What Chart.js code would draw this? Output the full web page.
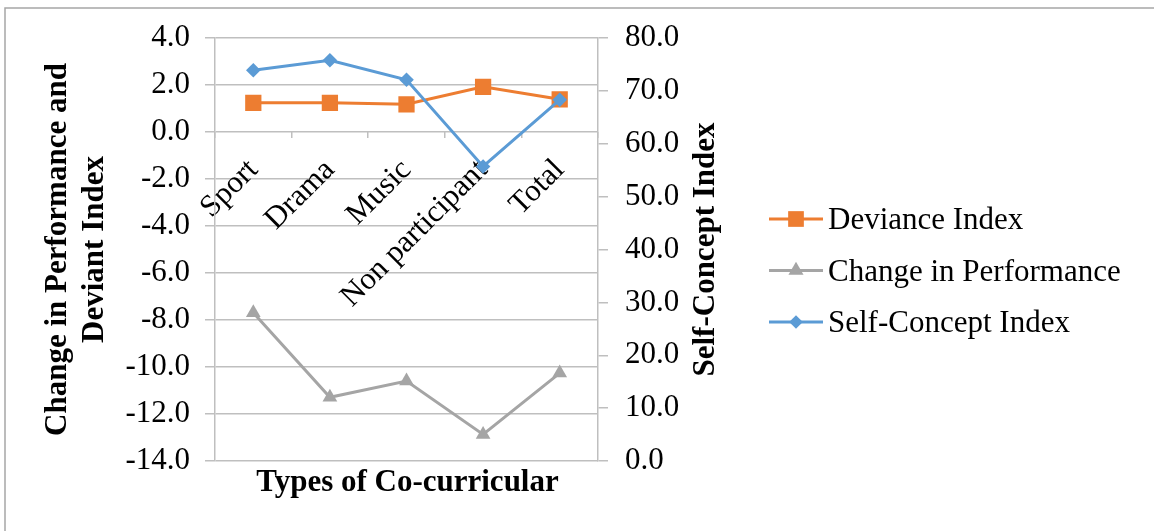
<!DOCTYPE html>
<html>
<head>
<meta charset="utf-8">
<title>Types of Co-curricular</title>
<script src="https://cdn.jsdelivr.net/npm/chart.js@4.4.1/dist/chart.umd.min.js"></script>
<style>
  html, body { margin: 0; padding: 0; background: #ffffff; }
  #wrap { width: 1154px; height: 531px; position: relative; }
  canvas { display: block; }
</style>
</head>
<body>
<div id="wrap"><canvas id="chart" width="1154" height="531"></canvas></div>
<script>
// ---- data ----
const categories = ['Sport', 'Drama', 'Music', 'Non participant', 'Total'];
const devianceIndex = [1.24, 1.24, 1.18, 1.92, 1.39];
const changeInPerformance = [-7.69, -11.29, -10.60, -12.87, -10.26];
const selfConceptIndex = [73.9, 75.8, 72.1, 55.7, 68.3];

const seriesNames = ['Deviance Index', 'Change in Performance', 'Self-Concept Index'];
const leftAxisTitle = ['Change in Performance and', 'Deviant Index'];
const rightAxisTitle = 'Self-Concept Index';
const xAxisTitle = 'Types of Co-curricular';

const leftMin = -14, leftMax = 4, leftStep = 2;
const rightMin = 0, rightMax = 80, rightStep = 10;

// ---- style ----
const FONT = '"Liberation Serif", "Times New Roman", serif';
const FS = 31;
const GRID = '#BFBFBF';
const ORANGE = '#ED7D31';
const GRAY = '#A5A5A5';
const BLUE = '#5B9BD5';

Chart.defaults.font.family = FONT;
Chart.defaults.font.size = FS;
Chart.defaults.color = '#000000';

// legend entries: line with the series marker in its middle
const legendMarkers = [
  { pointStyle: 'rect', radius: 11.1 },
  { pointStyle: 'triangle', radius: 8.7 },
  { pointStyle: 'rectRot', radius: 6.8 }
];

const framePlugin = {
  id: 'frame',
  beforeDraw(chart) {
    const ctx = chart.ctx;
    ctx.save();
    ctx.fillStyle = '#ffffff';
    ctx.fillRect(0, 0, chart.width, chart.height);
    ctx.strokeStyle = '#A6A6A6';
    ctx.lineWidth = 1.5;
    ctx.beginPath();
    ctx.moveTo(5, chart.height);
    ctx.lineTo(5, 8);
    ctx.lineTo(chart.width, 8);
    ctx.stroke();
    ctx.restore();
  }
};

const titlesPlugin = {
  id: 'extraTitles',
  afterDraw(chart) {
    const ctx = chart.ctx;
    const area = chart.chartArea;
    ctx.save();
    ctx.fillStyle = '#000000';
    ctx.font = 'bold ' + FS + 'px ' + FONT;
    // category axis title under the plot
    ctx.textAlign = 'center';
    ctx.textBaseline = 'alphabetic';
    ctx.fillText(xAxisTitle, (area.left + area.right) / 2 + 1, 491);
    // secondary axis title, reading bottom to top
    ctx.translate(chart.scales.y1.right - 22, (area.top + area.bottom) / 2);
    ctx.rotate(-Math.PI / 2);
    ctx.textBaseline = 'middle';
    ctx.fillText(rightAxisTitle, 0, 0);
    ctx.restore();
  }
};

const legendPlugin = {
  id: 'sideLegend',
  afterDraw(chart) {
    const ctx = chart.ctx;
    const rows = [219, 270.5, 322];
    const x0 = 769, x1 = 823, xm = 796, xt = 828;
    chart.data.datasets.forEach((ds, i) => {
      const y = rows[i];
      ctx.save();
      ctx.strokeStyle = ds.borderColor;
      ctx.lineWidth = ds.borderWidth;
      ctx.beginPath();
      ctx.moveTo(x0, y);
      ctx.lineTo(x1, y);
      ctx.stroke();
      ctx.fillStyle = ds.pointBackgroundColor;
      ctx.strokeStyle = ds.pointBackgroundColor;
      Chart.helpers.drawPoint(ctx, {
        pointStyle: legendMarkers[i].pointStyle,
        radius: legendMarkers[i].radius,
        rotation: 0,
        borderWidth: 0
      }, xm, y);
      ctx.fillStyle = '#000000';
      ctx.font = FS + 'px ' + FONT;
      ctx.textAlign = 'left';
      ctx.textBaseline = 'alphabetic';
      ctx.fillText(ds.label, xt, y + 10);
      ctx.restore();
    });
  }
};

const oneDecimal = v => Number(v).toFixed(1);

new Chart(document.getElementById('chart'), {
  type: 'line',
  data: {
    labels: categories,
    datasets: [
      {
        label: seriesNames[0],
        data: devianceIndex,
        yAxisID: 'y',
        borderColor: ORANGE,
        backgroundColor: ORANGE,
        pointBackgroundColor: ORANGE,
        pointBorderColor: ORANGE,
        borderWidth: 3,
        pointStyle: 'rect',
        pointRadius: 11.5,
        pointBorderWidth: 0,
        order: 2
      },
      {
        label: seriesNames[1],
        data: changeInPerformance,
        yAxisID: 'y',
        borderColor: GRAY,
        backgroundColor: GRAY,
        pointBackgroundColor: GRAY,
        pointBorderColor: GRAY,
        borderWidth: 3,
        pointStyle: 'triangle',
        pointRadius: 8.5,
        pointBorderWidth: 0,
        order: 1
      },
      {
        label: seriesNames[2],
        data: selfConceptIndex,
        yAxisID: 'y1',
        borderColor: BLUE,
        backgroundColor: BLUE,
        pointBackgroundColor: BLUE,
        pointBorderColor: BLUE,
        borderWidth: 3,
        pointStyle: 'rectRot',
        pointRadius: 7.3,
        pointBorderWidth: 0,
        order: 0
      }
    ]
  },
  options: {
    responsive: false,
    animation: false,
    devicePixelRatio: 1,
    layout: { padding: { left: 34, right: 426, top: 38, bottom: 70 } },
    plugins: {
      legend: { display: false },
      tooltip: { enabled: false }
    },
    elements: { line: { tension: 0 } },
    scales: {
      x: {
        type: 'category',
        position: { y: 0 },
        offset: true,
        border: { display: false },
        grid: {
          display: true,
          offset: true,
          drawOnChartArea: false,
          drawTicks: true,
          tickLength: 6,
          color: GRID,
          lineWidth: 1.5
        },
        ticks: {
          autoSkip: false,
          minRotation: 45,
          maxRotation: 45,
          padding: 14,
          color: '#000000',
          font: { size: FS }
        }
      },
      y: {
        position: 'left',
        min: leftMin,
        max: leftMax,
        border: { display: true, color: GRID, width: 1.5 },
        grid: { color: GRID, lineWidth: 1.5, drawTicks: true, tickLength: 10 },
        ticks: {
          stepSize: leftStep,
          padding: 15,
          color: '#000000',
          font: { size: FS },
          callback: oneDecimal
        },
        title: {
          display: true,
          text: leftAxisTitle,
          color: '#000000',
          font: { size: FS, weight: 'bold', lineHeight: 1.2 },
          padding: { top: 5, bottom: 4 }
        },
        afterFit(scale) { scale.width = 181; }
      },
      y1: {
        position: 'right',
        min: rightMin,
        max: rightMax,
        border: { display: true, color: GRID, width: 1.5 },
        grid: { drawOnChartArea: false, color: GRID, lineWidth: 1.5, drawTicks: true, tickLength: 10 },
        ticks: {
          stepSize: rightStep,
          padding: 17,
          color: '#000000',
          font: { size: FS },
          callback: oneDecimal
        },
        afterFit(scale) { scale.width = 130; }
      }
    }
  },
  plugins: [framePlugin, titlesPlugin, legendPlugin]
});
</script>
</body>
</html>
